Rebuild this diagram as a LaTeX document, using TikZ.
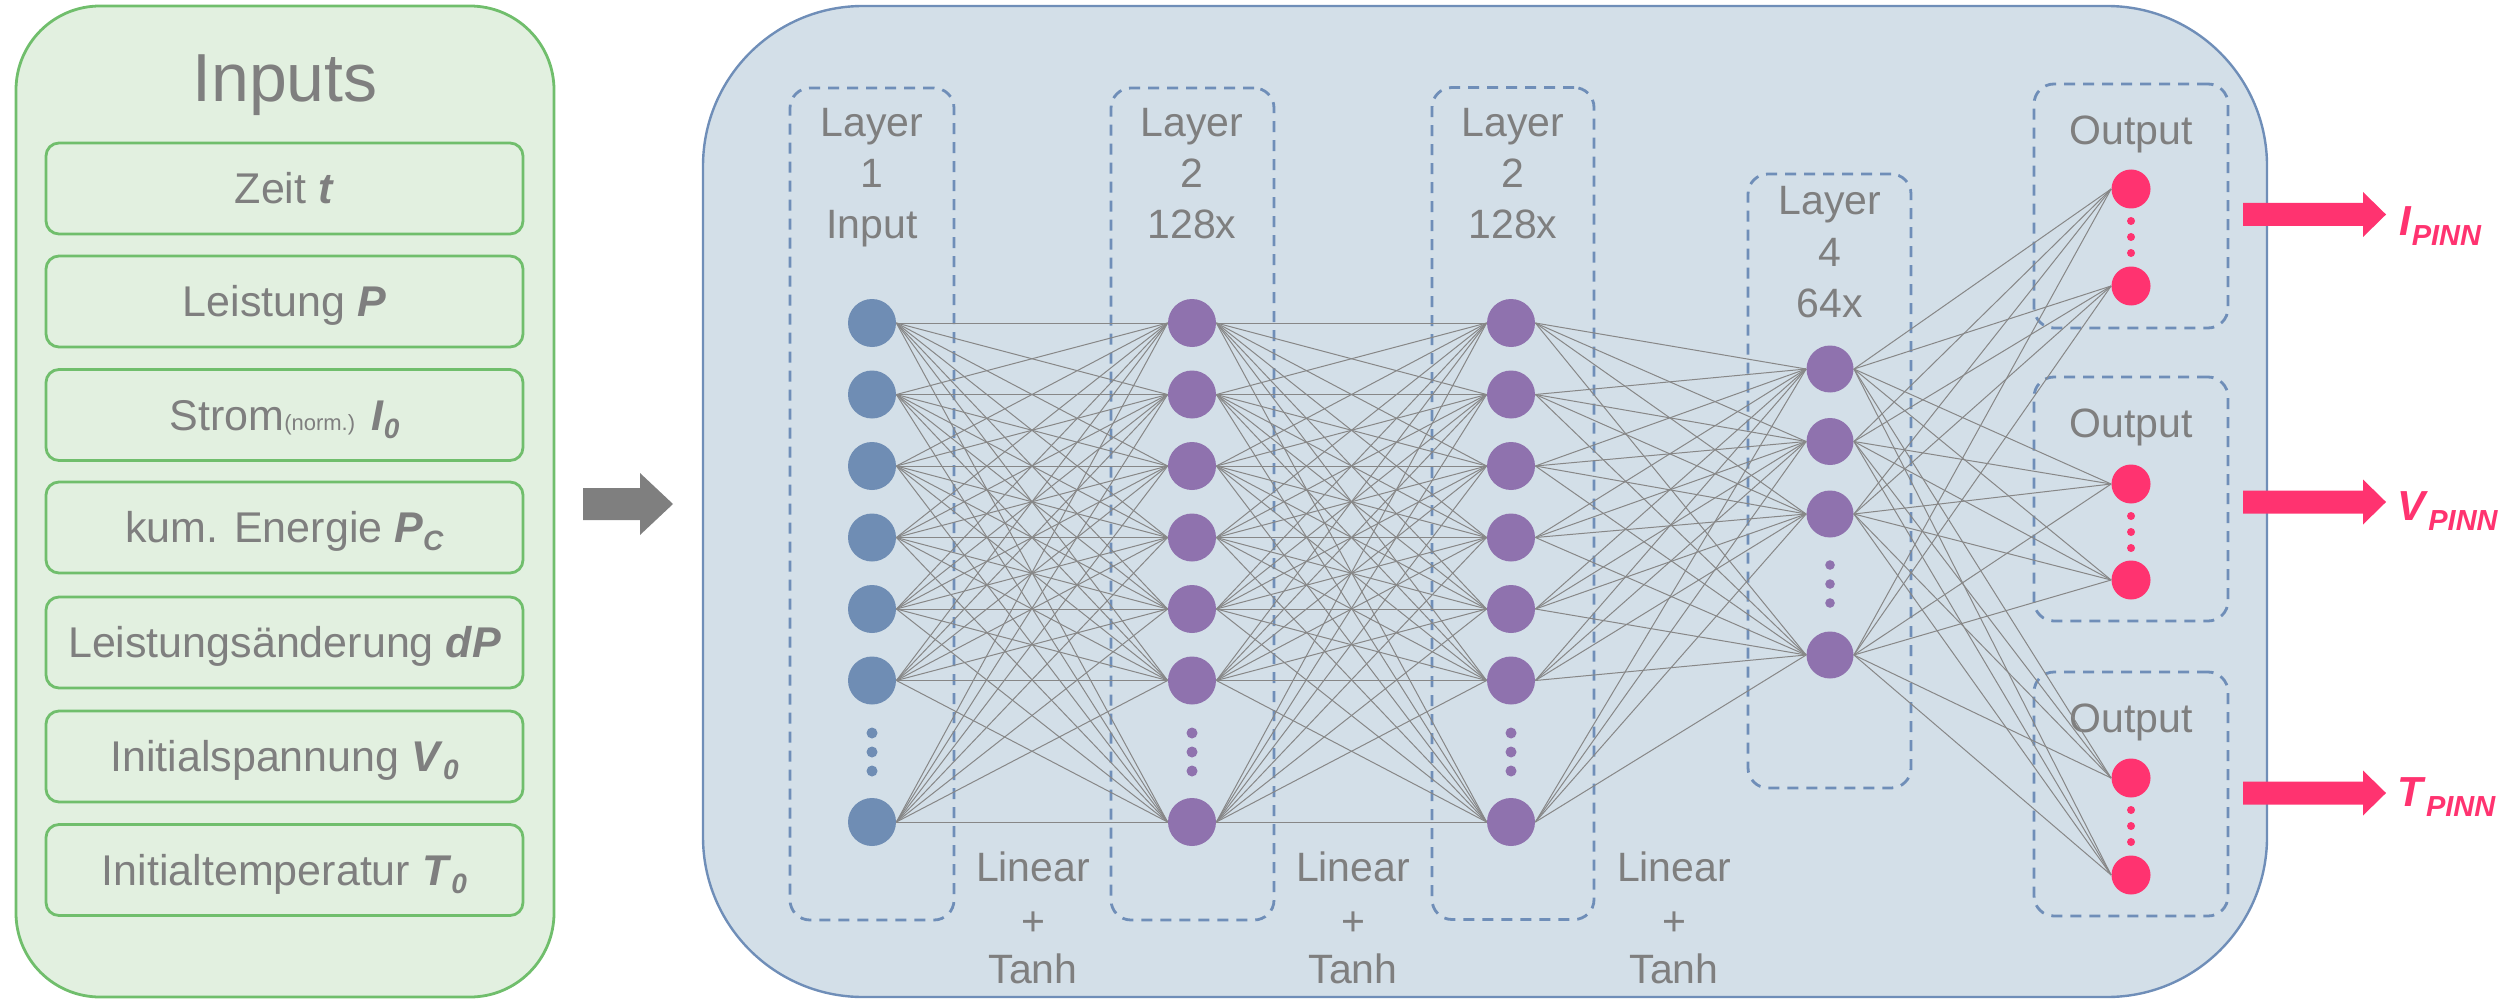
\documentclass[tikz,border=0pt]{standalone}
\usepackage{fontspec}
\setmainfont{Liberation Sans}
\definecolor{bfill}{RGB}{211,223,232}
\definecolor{bline}{RGB}{111,142,184}
\definecolor{gfill}{RGB}{226,240,224}
\definecolor{gline}{RGB}{112,190,108}
\definecolor{tgray}{RGB}{127,127,127}
\definecolor{nblue}{RGB}{111,141,180}
\definecolor{npurple}{RGB}{143,114,174}
\definecolor{npink}{RGB}{255,51,112}
\definecolor{egray}{RGB}{135,135,135}
\newcommand\bi[1]{\textbf{\textit{#1}}}
\newcommand\lsub[1]{\raisebox{-4pt}{\fontsize{14}{14}\selectfont\bi{#1}}}
\newcommand\osub[1]{\raisebox{-5pt}{\fontsize{14.5}{15}\selectfont\bi{#1}}}
\newcommand\pinkarrow[1]{\fill[npink] (2243,{#1-11.5}) -- (2363,{#1-11.5}) -- (2363,{#1-22.5}) -- (2386,#1) -- (2363,{#1+22.5}) -- (2363,{#1+11.5}) -- (2243,{#1+11.5}) -- cycle;}
\newcommand\lab[4]{\node[lbl] (#1) at (#2,#3) {#4};}
\begin{document}
\begin{tikzpicture}[x=0.5pt,y=-0.5pt,
  gbox/.style={draw=gline, fill=gfill, line width=1.4pt, rounded corners=42pt, minimum width=269pt, minimum height=495.5pt, inner sep=0pt},
  bbox/.style={draw=bline, fill=bfill, line width=1.2pt, rounded corners=80pt, minimum width=782pt, minimum height=495.5pt, inner sep=0pt},
  inbox/.style={draw=gline, fill=gfill, line width=1.4pt, rounded corners=6.5pt, minimum width=238.5pt, minimum height=45.5pt, inner sep=0pt, text height=15.4pt, text depth=0pt, text=tgray, font=\fontsize{21.5}{25}\selectfont},
  dbox/.style={draw=bline, dash pattern=on 5.5pt off 4pt, line width=1.4pt, rounded corners=10pt, inner sep=0pt},
  lbl/.style={text=tgray, font=\fontsize{20.5}{24}\selectfont, inner sep=0pt, anchor=base},
  olbl/.style={text=npink, font=\fontsize{21}{25}\selectfont, inner sep=0pt, anchor=base west},
  nin/.style={circle, fill=nblue, minimum size=24pt, inner sep=0pt},
  nhid/.style={circle, fill=npurple, minimum size=24pt, inner sep=0pt},
  nhid4/.style={circle, fill=npurple, minimum size=23.5pt, inner sep=0pt},
  nout/.style={circle, fill=npink, minimum size=19.5pt, inner sep=0pt},
  edge/.style={draw=egray, line width=0.5pt}]
\useasboundingbox (0,0) rectangle (2503,1000);
% inputs panel
\node[gbox] (inputs) at (285,501.5) {};
\node[lbl, font=\fontsize{34}{40}\selectfont] (inputsT) at (285,102) {Inputs};
\node[inbox] (i1) at (284.5,188.5) {Zeit \bi{t}};
\node[inbox] (i2) at (284.5,301.5) {Leistung \bi{P}};
\node[inbox] (i3) at (284.5,415) {Strom{\fontsize{11}{12}\selectfont(norm.)} \bi{I}\lsub{0}};
\node[inbox] (i4) at (284.5,527.5) {kum. Energie \bi{P}\lsub{C}};
\node[inbox] (i5) at (284.5,642.5) {Leistungsänderung \bi{dP}};
\node[inbox] (i6) at (284.5,756.5) {Initialspannung \bi{V}\lsub{0}};
\node[inbox] (i7) at (284.5,870) {Initialtemperatur \bi{T}\lsub{0}};
% gray arrow
\fill[tgray] (583,488) -- (640,488) -- (640,473) -- (673,504) -- (640,535) -- (640,520) -- (583,520) -- cycle;
% network panel
\node[bbox] (net) at (1485,501.5) {};
\node[dbox, minimum width=82pt, minimum height=416pt] (L1) at (872,504) {};
\node[dbox, minimum width=81.5pt, minimum height=416pt] (L2) at (1192.5,504) {};
\node[dbox, minimum width=81pt, minimum height=416pt] (L3) at (1513,503.5) {};
\node[dbox, minimum width=81.5pt, minimum height=307pt] (L4) at (1829.5,481) {};
\node[dbox, minimum width=97pt, minimum height=122pt] (O1) at (2131,206) {};
\node[dbox, minimum width=97pt, minimum height=122pt] (O2) at (2131,499) {};
\node[dbox, minimum width=97pt, minimum height=122pt] (O3) at (2131,794) {};
% labels
\lab{t1a}{872}{137}{Layer}\lab{t1b}{872}{188}{1}\lab{t1c}{872}{238}{Input}
\lab{t2a}{1192}{137}{Layer}\lab{t2b}{1192}{188}{2}\lab{t2c}{1192}{238}{128x}
\lab{t3a}{1513}{137}{Layer}\lab{t3b}{1513}{188}{2}\lab{t3c}{1513}{238}{128x}
\lab{t4a}{1830}{215}{Layer}\lab{t4b}{1830}{266}{4}\lab{t4c}{1830}{317}{64x}
\lab{to1}{2131}{145}{Output}\lab{to2}{2131}{437}{Output}\lab{to3}{2131}{732}{Output}
\foreach \x [count=\k] in {1033,1353,1674}{
  \node[lbl] (lin\k) at (\x,881) {Linear};
  \node[lbl] (plus\k) at (\x,935) {+};
  \node[lbl] (tanh\k) at (\x,983) {Tanh};
}
% neurons
\foreach \y [count=\i] in {323,394.5,466,537.5,609,680.5,822}{
  \node[nin] (a\i) at (872,\y) {};
  \node[nhid] (b\i) at (1192,\y) {};
  \node[nhid] (c\i) at (1511,\y) {};
}
\foreach \y [count=\i] in {369,441.5,514,655}{\node[nhid4] (d\i) at (1830,\y) {};}
\foreach \y [count=\i] in {189,286,484,580,778,875}{\node[nout] (o\i) at (2131,\y) {};}
% dots
\foreach \y in {733,752,771}{
  \fill[nblue] (872,\y) circle[radius=2.75pt];
  \fill[npurple] (1192,\y) circle[radius=2.75pt];
  \fill[npurple] (1511,\y) circle[radius=2.75pt];
}
\foreach \y in {565,584,603}{\fill[npurple] (1830,\y) circle[radius=2.4pt];}
\foreach \y in {221,237,253,516,532,548,810,826,842}{\fill[npink] (2131,\y) circle[radius=2pt];}
% connections
\foreach \i in {1,...,7}{\foreach \j in {1,...,7}{
  \draw[edge] (a\i.east) -- (b\j.west);
  \draw[edge] (b\i.east) -- (c\j.west);}}
\foreach \i in {1,...,7}{\foreach \j in {1,...,4}{\draw[edge] (c\i.east) -- (d\j.west);}}
\foreach \i in {1,...,4}{\foreach \j in {1,...,6}{\draw[edge] (d\i.east) -- (o\j.west);}}
% output arrows
\pinkarrow{214.5}
\pinkarrow{502}
\pinkarrow{793}
\node[olbl] (yI) at (2399,235) {\bi{I}\osub{PINN}};
\node[olbl] (yV) at (2397,520) {\bi{V}\osub{PINN}};
\node[olbl] (yT) at (2397,806) {\bi{T}\osub{PINN}};
\end{tikzpicture}
\end{document}
